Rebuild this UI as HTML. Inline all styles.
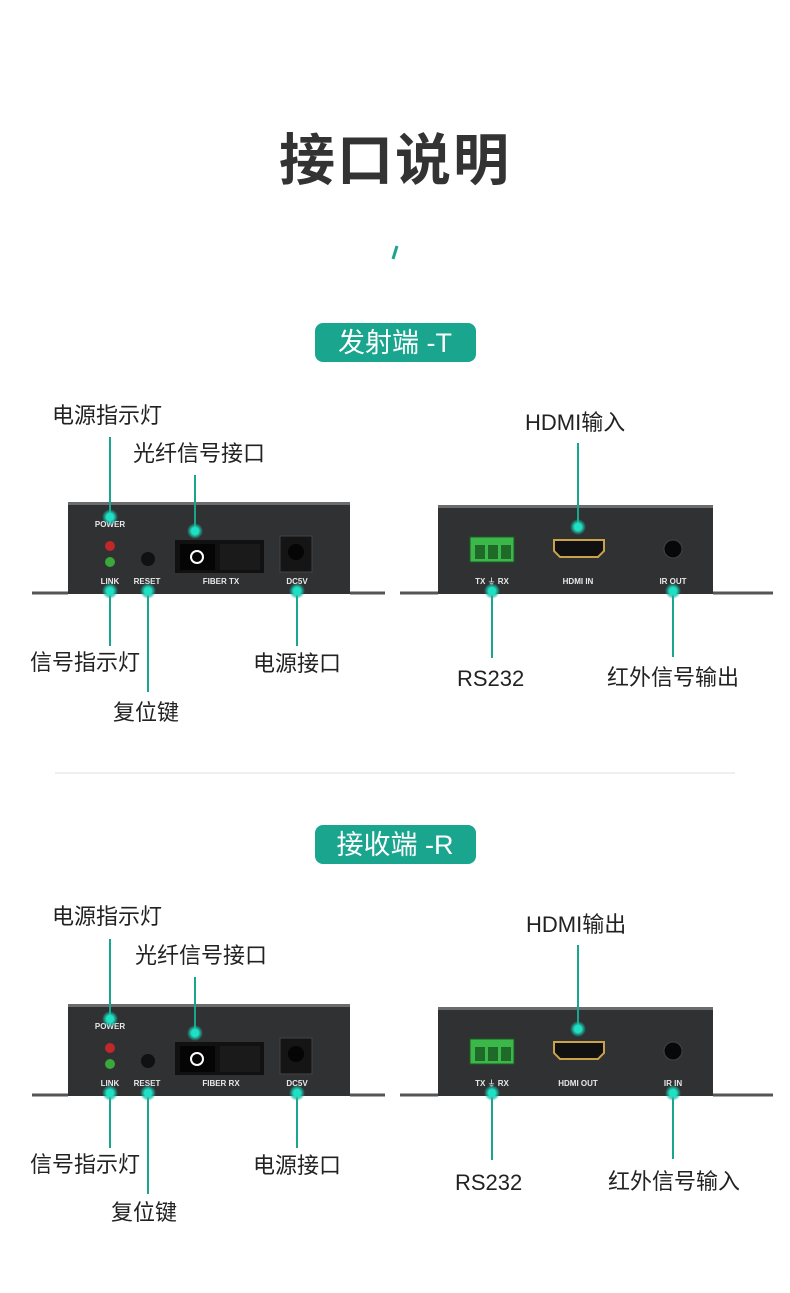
<!DOCTYPE html>
<html><head><meta charset="utf-8"><style>
html,body{margin:0;padding:0;background:#fff;}
svg{display:block;}
text{font-family:"Liberation Sans","Noto Sans CJK SC",sans-serif;}
.lbl{font-size:22px;fill:#222;}
.sm{font-size:8px;fill:#e8e8e8;font-weight:bold;}
.ln{stroke:#1aa58f;stroke-width:2;}
</style></head><body>
<svg width="790" height="1293" viewBox="0 0 790 1293" xmlns="http://www.w3.org/2000/svg">
<defs>
<radialGradient id="glow"><stop offset="0.45" stop-color="#1ee0c4"/><stop offset="0.7" stop-color="#1ab8a0" stop-opacity="0.7"/><stop offset="1" stop-color="#1ab8a0" stop-opacity="0"/></radialGradient>
<g id="dot"><circle r="8" fill="url(#glow)"/></g>
<g id="left">
  <line x1="32" y1="593" x2="68" y2="593" stroke="#555" stroke-width="3"/>
  <line x1="350" y1="593" x2="385" y2="593" stroke="#555" stroke-width="3"/>
  <rect x="68" y="502" width="282" height="92" fill="#2f3133"/>
  <rect x="68" y="502" width="282" height="3" fill="#6a6c6e"/>
  <circle cx="110" cy="546" r="5" fill="#c0282a"/>
  <circle cx="110" cy="562" r="5" fill="#3aa83a"/>
  <circle cx="148" cy="559" r="7" fill="#111"/>
  <rect x="175" y="540" width="89" height="33" fill="#111"/>
  <rect x="180" y="544" width="35" height="26" fill="#050505"/>
  <rect x="220" y="544" width="40" height="26" fill="#1a1a1a"/>
  <circle cx="197" cy="557" r="6" fill="none" stroke="#fff" stroke-width="2"/>
  <rect x="280" y="536" width="32" height="36" fill="#151515" stroke="#444"/>
  <circle cx="296" cy="552" r="8" fill="#050505"/>
  <text class="sm" x="110" y="527" text-anchor="middle">POWER</text>
  <text class="sm" x="110" y="584" text-anchor="middle">LINK</text>
  <text class="sm" x="147" y="584" text-anchor="middle">RESET</text>
  <text class="sm" x="221" y="584" text-anchor="middle">FIBER TX</text>
  <text class="sm" x="297" y="584" text-anchor="middle">DC5V</text>
  <line class="ln" x1="110" y1="437" x2="110" y2="517"/>
  <line class="ln" x1="195" y1="475" x2="195" y2="531"/>
  <line class="ln" x1="110" y1="591" x2="110" y2="646"/>
  <line class="ln" x1="148" y1="591" x2="148" y2="692"/>
  <line class="ln" x1="297" y1="591" x2="297" y2="646"/>
  <use href="#dot" x="110" y="517"/><use href="#dot" x="195" y="531"/>
  <use href="#dot" x="110" y="591"/><use href="#dot" x="148" y="591"/><use href="#dot" x="297" y="591"/>
</g>
<g id="right">
  <line x1="400" y1="593" x2="438" y2="593" stroke="#555" stroke-width="3"/>
  <line x1="713" y1="593" x2="773" y2="593" stroke="#555" stroke-width="3"/>
  <rect x="438" y="505" width="275" height="89" fill="#2f3133"/>
  <rect x="438" y="505" width="275" height="3" fill="#6a6c6e"/>
  <rect x="470" y="537" width="44" height="25" fill="#3cb84a" stroke="#1a5a22"/>
  <rect x="475" y="545" width="10" height="14" fill="#1f6a28"/><rect x="488" y="545" width="10" height="14" fill="#1f6a28"/><rect x="501" y="545" width="10" height="14" fill="#1f6a28"/>
  <path d="M554 540 H604 V551 L598 557 H560 L554 551 Z" fill="#111" stroke="#c9a24a" stroke-width="2"/>
  <circle cx="673" cy="549" r="9" fill="#080808" stroke="#444"/>
  <text class="sm" x="492" y="584" text-anchor="middle">TX ⏚ RX</text>
  <line class="ln" x1="578" y1="443" x2="578" y2="527"/>
  <line class="ln" x1="492" y1="591" x2="492" y2="658"/>
  <line class="ln" x1="673" y1="591" x2="673" y2="657"/>
  <use href="#dot" x="578" y="527"/><use href="#dot" x="492" y="591"/><use href="#dot" x="673" y="591"/>
</g>
</defs>

<text x="395" y="180" text-anchor="middle" style="font-size:56px;font-weight:bold;fill:#333;letter-spacing:2px">接口说明</text>
<line x1="397" y1="246" x2="393" y2="259" stroke="#1aa58f" stroke-width="3"/>

<!-- section 1 -->
<rect x="315" y="323" width="161" height="39" rx="8" fill="#1aa58f"/>
<text x="395" y="352" text-anchor="middle" style="font-size:27px;fill:#fff">发射端 -T</text>
<use href="#left"/>
<use href="#right"/>
<text class="sm" x="578" y="584" text-anchor="middle">HDMI  IN</text>
<text class="sm" x="673" y="584" text-anchor="middle">IR OUT</text>
<text class="lbl" x="52" y="423">电源指示灯</text>
<text class="lbl" x="133" y="461">光纤信号接口</text>
<text class="lbl" x="30" y="670">信号指示灯</text>
<text class="lbl" x="113" y="720">复位键</text>
<text class="lbl" x="253" y="671">电源接口</text>
<text class="lbl" x="525" y="430">HDMI输入</text>
<text class="lbl" x="457" y="686">RS232</text>
<text class="lbl" x="607" y="685">红外信号输出</text>

<rect x="55" y="772" width="680" height="2" fill="#efefef"/>

<!-- section 2 -->
<rect x="315" y="825" width="161" height="39" rx="8" fill="#1aa58f"/>
<text x="395" y="854" text-anchor="middle" style="font-size:27px;fill:#fff">接收端 -R</text>
<g transform="translate(0,502)">
<use href="#left"/>
<rect x="200" y="577" width="45" height="10" fill="#2f3133"/>
<text class="sm" x="221" y="584" text-anchor="middle">FIBER RX</text>
<use href="#right"/>
<text class="sm" x="578" y="584" text-anchor="middle">HDMI OUT</text>
<text class="sm" x="673" y="584" text-anchor="middle">IR IN</text>
<text class="lbl" x="52" y="422">电源指示灯</text>
<text class="lbl" x="135" y="461">光纤信号接口</text>
<text class="lbl" x="30" y="670">信号指示灯</text>
<text class="lbl" x="111" y="718">复位键</text>
<text class="lbl" x="253" y="671">电源接口</text>
<text class="lbl" x="526" y="430">HDMI输出</text>
<text class="lbl" x="455" y="688">RS232</text>
<text class="lbl" x="608" y="687">红外信号输入</text>
</g>
</svg>
</body></html>
